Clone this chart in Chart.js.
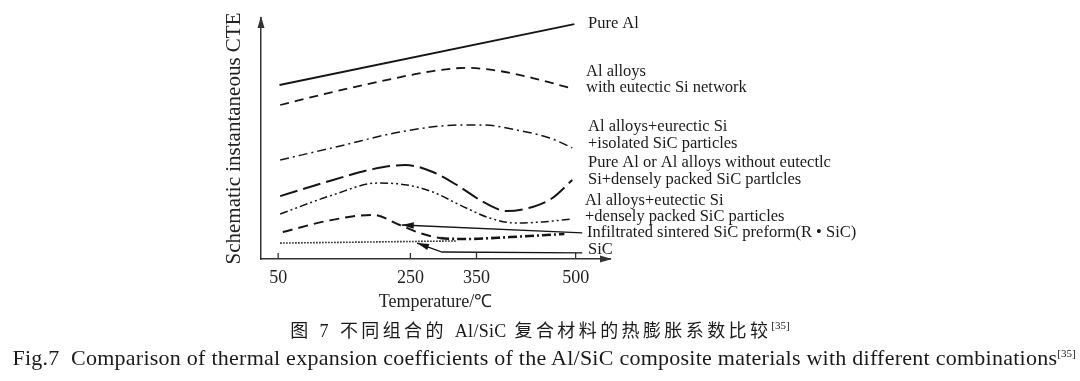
<!DOCTYPE html>
<html>
<head>
<meta charset="utf-8">
<script src="https://cdn.jsdelivr.net/npm/chart.js@4/dist/chart.umd.min.js"></script>
<style>
  html, body { margin: 0; padding: 0; background: #fff; }
  #wrap { position: relative; width: 1080px; height: 381px; overflow: hidden; background: #fff; }
  #c { position: absolute; left: 0; top: 0; }
  .cap { position: absolute; text-align: center; color: #1a1a1a; white-space: nowrap; }
  #capZh { left: 0; width: 1080px; top: 321px; line-height: 20px; font-size: 18px; letter-spacing: 3.4px;
           font-family: "Liberation Serif", "Noto Sans CJK SC", serif; }
  #capZh .lat { letter-spacing: 0.3px; }
  #capEn { left: 8px; width: 1072px; top: 346px; line-height: 24px; font-size: 22px; letter-spacing: 0.25px;
           font-family: "Liberation Serif", serif; }
  sup { font-size: 11px; line-height: 0; vertical-align: 8px; letter-spacing: 0; }
</style>
</head>
<body>
<div id="wrap">
  <canvas id="c" width="1080" height="381"></canvas>
  <div class="cap" id="capZh">图 7 不同组合的 <span class="lat">Al/SiC</span> 复合材料的热膨胀系数比较<sup>[35]</sup></div>
  <div class="cap" id="capEn">Fig.7&nbsp; Comparison of thermal expansion coefficients of the Al/SiC composite materials with different combinations<sup>[35]</sup></div>
</div>
<script>
// ---- data (temperature in °C, schematic CTE in arbitrary units 0-100) ----
const tickTemps = [50, 250, 350, 500];

const pureAlT = [52, 498];
const pureAlV = [72.2, 97.5];

const alloyNetT = [53, 133, 215, 284, 335, 385, 435, 491];
const alloyNetV = [63.9, 69.3, 74.3, 78.0, 79.3, 78.0, 75.1, 71.0];

const isolatedT = [53, 144, 234, 325, 360, 411, 461, 495];
const isolatedV = [41.1, 46.9, 52.7, 55.6, 55.6, 53.5, 50.2, 46.1];

const pureDenseT = [53, 133, 193, 242, 284, 325, 360, 396, 435, 465, 495];
const pureDenseV = [26.1, 32.8, 37.3, 39.0, 36.1, 29.9, 23.7, 19.9, 21.6, 25.3, 32.8];

const alloyDenseT = [53, 133, 200, 245, 284, 325, 370, 411, 450, 495];
const alloyDenseV = [18.7, 26.6, 31.5, 30.7, 27.8, 22.4, 17.0, 14.9, 15.4, 16.6];

const preformT = [57, 124, 193, 234, 264, 295, 333, 401, 483];
const preformV = [11.2, 15.8, 18.3, 14.1, 10.8, 8.7, 8.3, 9.1, 10.4];

const sicT = [53, 320];
const sicV = [6.6, 7.5];

const preformArrowT = [510, 237];
const preformArrowV = [10.8, 14.1];
const sicArrowT = [510, 298, 260];
const sicArrowV = [2.5, 2.9, 6.6];

const labelLines = [
  ["Pure Al"],
  ["Al alloys", "with eutectic Si network"],
  ["Al alloys+eurectic Si", "+isolated SiC particles"],
  ["Pure Al or Al alloys without eutectlc", "Si+densely packed SiC partlcles"],
  ["Al alloys+eutectic Si", "+densely packed SiC particles"],
  ["Infiltrated sintered SiC preform(R • SiC)"],
  ["SiC"]
];

// ---- helpers ----
const pts = (t, v) => t.map((x, i) => ({ x: x, y: v[i] }));
const INK = '#151515';
const SERIF = '"Liberation Serif", "Times New Roman", serif';

function line(data, dash, width, extra) {
  return Object.assign({
    data: data, borderColor: INK, borderWidth: width, borderDash: dash,
    pointRadius: 0, tension: 0.4, cubicInterpolationMode: 'monotone', fill: false,
    borderCapStyle: 'butt'
  }, extra || {});
}

function arrowHead(ctx, x0, y0, x1, y1, len, half) {
  const a = Math.atan2(y1 - y0, x1 - x0);
  ctx.beginPath();
  ctx.moveTo(x1, y1);
  ctx.lineTo(x1 - len * Math.cos(a) + half * Math.sin(a), y1 - len * Math.sin(a) - half * Math.cos(a));
  ctx.lineTo(x1 - len * Math.cos(a) - half * Math.sin(a), y1 - len * Math.sin(a) + half * Math.cos(a));
  ctx.closePath();
  ctx.fill();
}

const decor = {
  id: 'decor',
  afterDatasetsDraw(chart) {
    const { ctx, chartArea: ca, scales: { x, y } } = chart;
    ctx.save();
    // axis arrowheads
    ctx.fillStyle = '#333';
    arrowHead(ctx, ca.left, ca.bottom, ca.right + 2, ca.bottom, 12, 3.5);
    arrowHead(ctx, ca.left, ca.bottom, ca.left, ca.top - 2, 12, 3.5);
    // inward tick marks
    ctx.strokeStyle = '#333';
    ctx.lineWidth = 1.3;
    x.ticks.forEach(t => {
      const px = x.getPixelForValue(t.value);
      ctx.beginPath(); ctx.moveTo(px, ca.bottom); ctx.lineTo(px, ca.bottom - 6); ctx.stroke();
    });
    // annotation arrows
    ctx.strokeStyle = INK; ctx.fillStyle = INK; ctx.lineWidth = 1.3;
    [[preformArrowT, preformArrowV], [sicArrowT, sicArrowV]].forEach(([T, V]) => {
      const P = T.map((t, i) => [x.getPixelForValue(t), y.getPixelForValue(V[i])]);
      ctx.beginPath();
      ctx.moveTo(P[0][0], P[0][1]);
      for (let i = 1; i < P.length; i++) ctx.lineTo(P[i][0], P[i][1]);
      ctx.stroke();
      const n = P.length;
      arrowHead(ctx, P[n - 2][0], P[n - 2][1], P[n - 1][0], P[n - 1][1], 12, 3.2);
    });
    // series labels on the right
    ctx.font = '16.5px ' + SERIF;
    ctx.fillStyle = '#1a1a1a';
    ctx.textBaseline = 'middle';
    const lx = [[588], [586, 586], [588, 588], [588, 588], [585, 585], [587], [588]];
    const ly = [[24], [72, 88], [127, 144], [163, 180], [200.5, 217], [233], [250]];
    labelLines.forEach((lines, i) => {
      lines.forEach((s, j) => ctx.fillText(s, lx[i][j], ly[i][j]));
    });
    ctx.restore();
  }
};

new Chart(document.getElementById('c'), {
  type: 'line',
  data: {
    datasets: [
      line(pts(pureAlT, pureAlV), [], 1.8, { tension: 0 }),
      line(pts(alloyNetT, alloyNetV), [9, 6], 1.8),
      line(pts(isolatedT, isolatedV), [9, 4, 2, 4], 1.5),
      line(pts(pureDenseT, pureDenseV), [18, 6], 2),
      line(pts(alloyDenseT, alloyDenseV), [8, 3, 2, 3, 2, 3], 1.5),
      line(pts(preformT, preformV), [10, 6], 2, {
        segment: {
          borderDash: c => c.p0.parsed.x >= 295 ? [9, 3, 2, 3] : [10, 6],
          borderWidth: c => c.p0.parsed.x >= 295 ? 2.6 : 2
        }
      }),
      line(pts(sicT, sicV), [1.5, 1.5], 1.6, { tension: 0 })
    ]
  },
  options: {
    responsive: false,
    animation: false,
    devicePixelRatio: 1,
    layout: { padding: { top: 18, right: 470, left: 0, bottom: 0 } },
    plugins: { legend: { display: false }, tooltip: { enabled: false } },
    scales: {
      x: {
        type: 'linear', min: 24, max: 552,
        grid: { display: false, drawTicks: false },
        border: { display: true, color: '#333', width: 1.5 },
        ticks: { color: '#222', padding: 8, font: { family: SERIF, size: 18 } },
        afterBuildTicks: s => { s.ticks = tickTemps.map(v => ({ value: v })); },
        afterFit: s => { s.height = 122; },
        title: { display: true, text: 'Temperature/℃', color: '#222',
                 font: { family: SERIF, size: 18 }, padding: { top: 0, bottom: 68 } }
      },
      y: {
        type: 'linear', min: 0, max: 100,
        grid: { display: false, drawTicks: false },
        border: { display: true, color: '#333', width: 1.5 },
        ticks: { display: false },
        afterFit: s => { s.width = 261; },
        title: { display: true, text: 'Schematic instantaneous CTE', color: '#222',
                 font: { family: SERIF, size: 21 }, padding: { top: 222, bottom: 0 } }
      }
    }
  },
  plugins: [decor]
});
</script>
</body>
</html>
